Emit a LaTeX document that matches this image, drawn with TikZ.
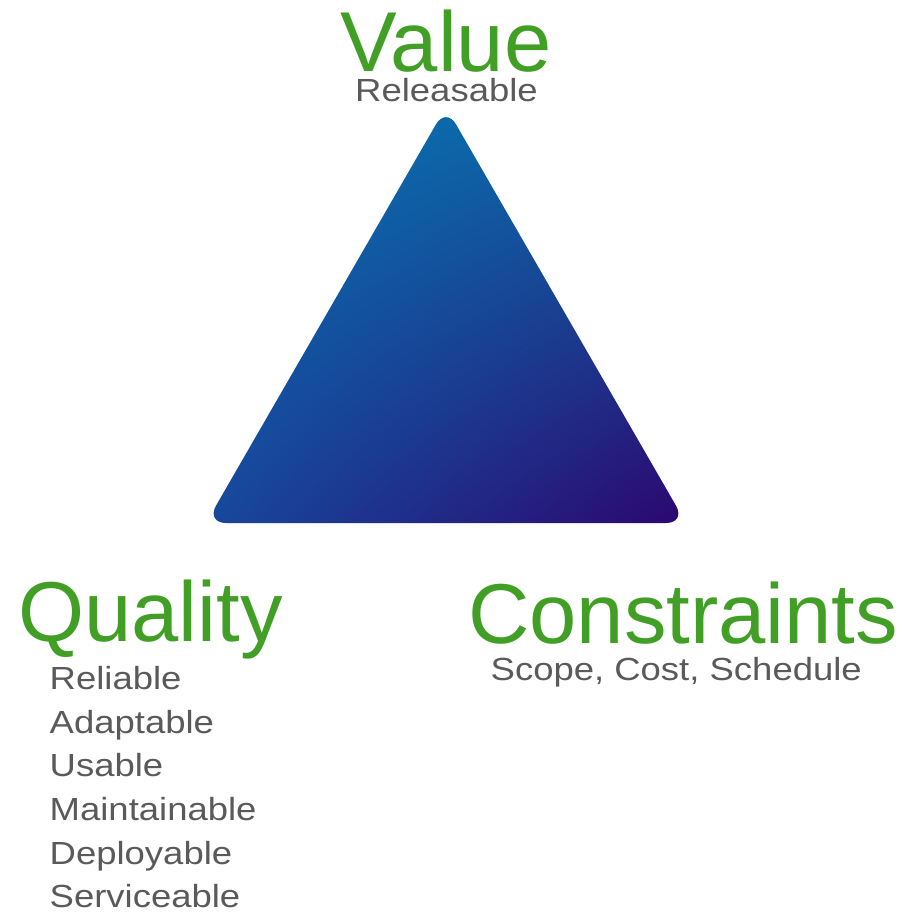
\documentclass[tikz,border=0pt]{standalone}
\usepackage{fontspec}
\usetikzlibrary{shadings}
\setmainfont{Liberation Sans}
\newfontfamily\listfont[FakeStretch=1.14]{Liberation Sans}
\definecolor{titlegreen}{HTML}{419F25}
\definecolor{textgray}{HTML}{5A5A5A}
\definecolor{cornerUL}{HTML}{0576B6}
\definecolor{cornerUR}{HTML}{1060A0}
\definecolor{cornerLL}{HTML}{17489C}
\definecolor{cornerLR}{HTML}{2C0670}
\tikzset{
	title/.style={text=titlegreen,font=\fontsize{85}{85}\selectfont,inner sep=0pt},
	item/.style={text=textgray,font=\listfont\fontsize{32}{32}\selectfont,inner sep=0pt},
}

\begin{document}
\begin{tikzpicture}[x=1pt,y=-1pt]
	\useasboundingbox (0,0) rectangle (906,921);
	\coordinate (top) at (446,107);
	\coordinate (left) at (206,523);
	\coordinate (right) at (686,523);
	\shade[rounded corners=20pt,upper left=cornerUL,upper right=cornerUR,lower left=cornerLL,lower right=cornerLR]
		(top) -- (right) -- (left) -- cycle;
	
	\node[title,anchor=base] at (446,71.7)(value){Value};
	\node[item,anchor=base] at (446.5,101.7)(releasable){Releasable};
	
	\node[title,anchor=base west] at (18,641)(quality){Quality};
	\foreach \name [count=\i from 0] in {Reliable,Adaptable,Usable,Maintainable,Deployable,Serviceable}
		\node[item,anchor=base west] at (49.5,689.3+43.7*\i)(q\i){\name};
	
	\node[title,anchor=base west] at (468,643)(constraints){Constraints};
	\node[item,anchor=base west] at (490.5,680)(scope){Scope, Cost, Schedule};
\end{tikzpicture}
\end{document}
